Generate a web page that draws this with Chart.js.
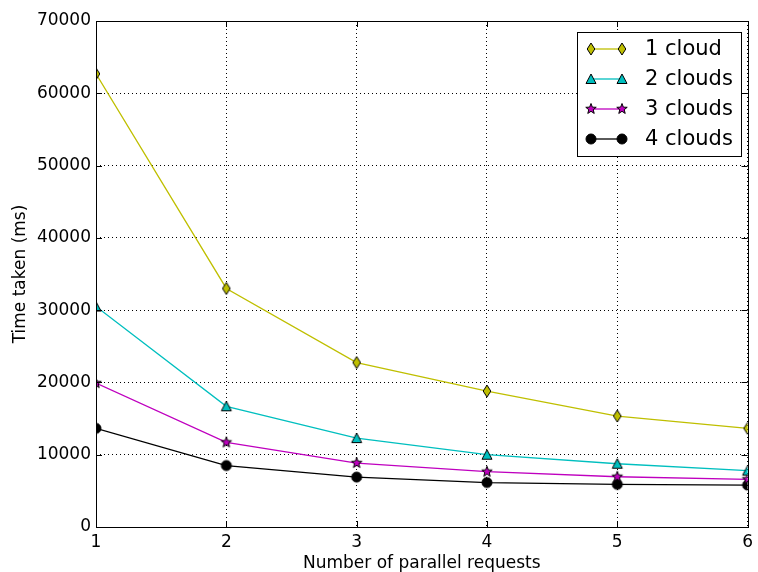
<!DOCTYPE html>
<html>
<head>
<meta charset="utf-8">
<script src="https://cdn.jsdelivr.net/npm/chart.js@4.4.0/dist/chart.umd.min.js"></script>
<style>
  html, body { margin: 0; padding: 0; background: #ffffff; }
  #wrap { width: 758px; height: 572px; }
</style>
</head>
<body>
<div id="wrap"><canvas id="canva_line" width="758" height="572"></canvas></div>
<script>
var peticiones = [1, 2, 3, 4, 5, 6];
var nombres = ['1 cloud', '2 clouds', '3 clouds', '4 clouds'];
var unaNube = [62700, 33000, 22750, 18800, 15350, 13650];
var dosNubes = [30500, 16700, 12300, 10000, 8750, 7800];
var tresNubes = [19900, 11700, 8850, 7650, 6950, 6600];
var cuatroNubes = [13650, 8500, 6900, 6150, 5900, 5800];
var ticksY = [0, 10000, 20000, 30000, 40000, 50000, 60000, 70000];

var colores = ['#bfbf00', '#00bfbf', '#bf00bf', '#000000'];
var fuente = 'DejaVu Sans';

// marcadores dibujados a mano, como los de matplotlib
function marcador(tipo, color) {
    var c = document.createElement('canvas');
    c.width = 14; c.height = 16;
    var g = c.getContext('2d');
    var cx = 7, cy = 8;
    g.beginPath();
    if (tipo == 'diamante') {
        g.moveTo(cx, cy - 6); g.lineTo(cx + 3.8, cy); g.lineTo(cx, cy + 6); g.lineTo(cx - 3.8, cy);
    } else if (tipo == 'triangulo') {
        g.moveTo(cx, cy - 5); g.lineTo(cx + 5, cy + 4.5); g.lineTo(cx - 5, cy + 4.5);
    } else if (tipo == 'estrella') {
        for (var i = 0; i < 10; i++) {
            var r = (i % 2 == 0) ? 5.5 : 2.3;
            var a = -Math.PI / 2 + i * Math.PI / 5;
            if (i == 0) g.moveTo(cx + r * Math.cos(a), cy + r * Math.sin(a));
            else g.lineTo(cx + r * Math.cos(a), cy + r * Math.sin(a));
        }
    } else {
        g.arc(cx, cy, 5, 0, Math.PI * 2);
    }
    g.closePath();
    g.fillStyle = color;
    g.fill();
    g.lineWidth = 1;
    g.strokeStyle = '#000000';
    g.stroke();
    return c;
}

var formas = [
    marcador('diamante', colores[0]),
    marcador('triangulo', colores[1]),
    marcador('estrella', colores[2]),
    marcador('circulo', colores[3])
];

function puntos(valores) {
    return peticiones.map(function (x, i) { return { x: x, y: valores[i] }; });
}

function serie(i, valores) {
    return {
        label: nombres[i],
        data: puntos(valores),
        borderColor: colores[i],
        backgroundColor: colores[i],
        borderWidth: 1.3,
        pointStyle: formas[i],
        pointRadius: 5,
        tension: 0,
        clip: { left: 0, top: 0, right: 0, bottom: 0 }
    };
}

// marco negro, marcas hacia adentro y leyenda al estilo matplotlib
var estiloMpl = {
    id: 'estiloMpl',
    afterDraw: function (chart) {
        var ctx = chart.ctx;
        var a = chart.chartArea;
        var sx = chart.scales.x, sy = chart.scales.y;
        ctx.save();
        ctx.strokeStyle = '#000000';
        ctx.lineWidth = 1;
        ctx.beginPath();
        peticiones.forEach(function (v) {
            var px = Math.round(sx.getPixelForValue(v)) + 0.5;
            ctx.moveTo(px, a.bottom); ctx.lineTo(px, a.bottom - 6);
            ctx.moveTo(px, a.top); ctx.lineTo(px, a.top + 6);
        });
        ticksY.forEach(function (v) {
            var py = Math.round(sy.getPixelForValue(v)) + 0.5;
            ctx.moveTo(a.left, py); ctx.lineTo(a.left + 6, py);
            ctx.moveTo(a.right, py); ctx.lineTo(a.right - 6, py);
        });
        ctx.stroke();
        ctx.strokeRect(Math.round(a.left) + 0.5, Math.round(a.top) + 0.5,
            Math.round(a.right - a.left), Math.round(a.bottom - a.top));

        // leyenda
        var lx = 577, ly = 32, lw = 164, lh = 124;
        ctx.fillStyle = '#ffffff';
        ctx.fillRect(lx, ly, lw, lh);
        ctx.strokeRect(lx + 0.5, ly + 0.5, lw, lh);
        ctx.font = '21px "' + fuente + '"';
        ctx.textBaseline = 'middle';
        for (var i = 0; i < nombres.length; i++) {
            var y = 49 + i * 30;
            ctx.strokeStyle = colores[i];
            ctx.lineWidth = 1.3;
            ctx.beginPath();
            ctx.moveTo(591, y); ctx.lineTo(622, y);
            ctx.stroke();
            ctx.drawImage(formas[i], 591 - 7, y - 8);
            ctx.drawImage(formas[i], 622 - 7, y - 8);
            ctx.fillStyle = '#000000';
            ctx.fillText(nombres[i], 645, y + 1);
        }
        ctx.restore();
    }
};

graficar();
function graficar() {
    var ctx = document.getElementById('canva_line').getContext('2d');
    var miGrafica = new Chart(ctx, {
        type: 'line',
        data: {
            datasets: [
                serie(0, unaNube),
                serie(1, dosNubes),
                serie(2, tresNubes),
                serie(3, cuatroNubes)
            ]
        },
        options: {
            responsive: false,
            animation: false,
            layout: { padding: { left: 0, right: 6, top: 21, bottom: 0 } },
            plugins: {
                legend: { display: false },
                tooltip: { enabled: false }
            },
            scales: {
                x: {
                    type: 'linear',
                    min: 1,
                    max: 6,
                    afterFit: function (s) { s.height = 45; },
                    ticks: {
                        stepSize: 1,
                        color: '#000000',
                        padding: 5,
                        font: { family: fuente, size: 17 }
                    },
                    grid: { color: '#000000', lineWidth: 1, drawTicks: false },
                    border: { display: false, dash: [1, 3] },
                    title: {
                        display: true,
                        text: 'Number of parallel requests',
                        color: '#000000',
                        font: { family: fuente, size: 17 },
                        padding: { top: 0, bottom: -2 }
                    }
                },
                y: {
                    min: 0,
                    max: 70000,
                    afterFit: function (s) { s.width = 96; },
                    ticks: {
                        stepSize: 10000,
                        color: '#000000',
                        padding: 5,
                        font: { family: fuente, size: 17 },
                        callback: function (v) { return String(v); }
                    },
                    grid: { color: '#000000', lineWidth: 1, drawTicks: false },
                    border: { display: false, dash: [1, 3] },
                    title: {
                        display: true,
                        text: 'Time taken (ms)',
                        color: '#000000',
                        font: { family: fuente, size: 17 },
                        padding: { top: 10, bottom: 0 }
                    }
                }
            }
        },
        plugins: [estiloMpl]
    });
}
</script>
</body>
</html>
